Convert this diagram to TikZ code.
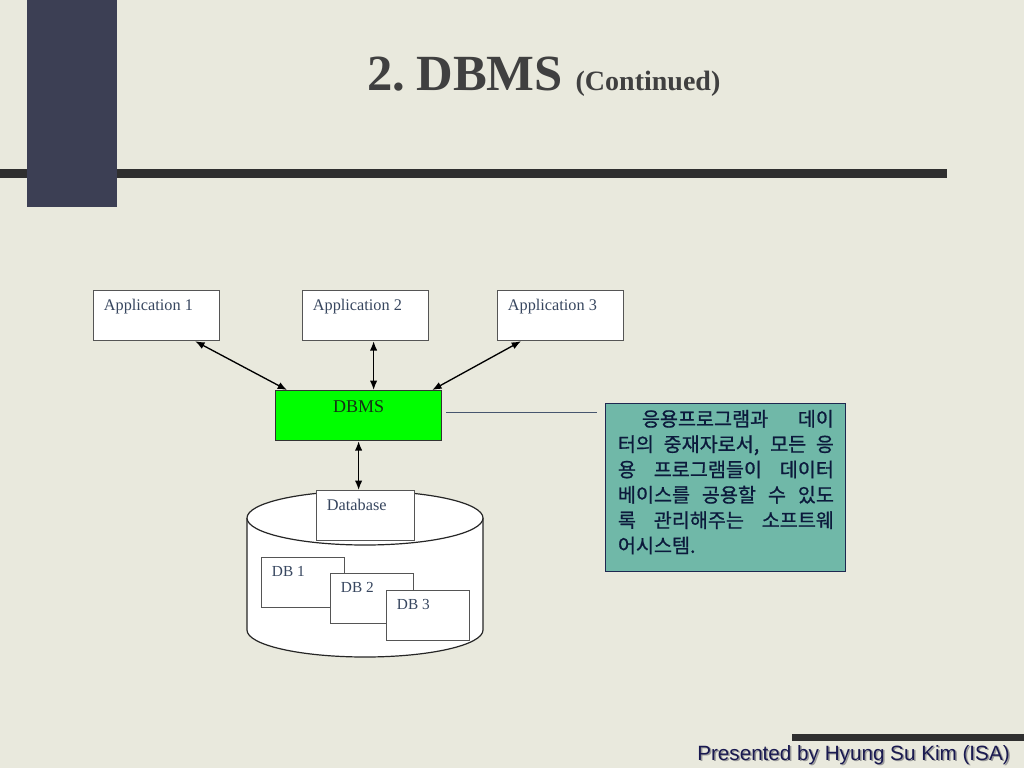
\documentclass[tikz,border=0pt]{standalone}
\usepackage{fontspec}
\setmainfont{Liberation Serif}
\newfontfamily\hangulfont[FakeBold=0.8]{Noto Sans CJK KR}
\newfontfamily\footerfont{Liberation Sans}
\usetikzlibrary{arrows.meta}
\definecolor{paper}{RGB}{233,233,221}
\definecolor{pillar}{RGB}{60,63,84}
\definecolor{rulebar}{RGB}{47,47,47}
\definecolor{titlegray}{RGB}{64,64,64}
\definecolor{boxline}{RGB}{85,85,85}
\definecolor{boxtext}{RGB}{55,70,95}
\definecolor{dbmsgreen}{RGB}{0,255,0}
\definecolor{dbmstext}{RGB}{20,50,20}
\definecolor{notefill}{RGB}{112,184,168}
\definecolor{noteline}{RGB}{30,40,80}
\definecolor{notetext}{RGB}{12,26,60}
\definecolor{leadercol}{RGB}{70,85,110}
\definecolor{footnavy}{RGB}{25,25,80}
\begin{document}
\begin{tikzpicture}[x=0.75pt, y=-0.75pt,
    every node/.style={inner sep=0pt},
    appbox/.style={draw=boxline, fill=white, line width=0.9pt, anchor=north west,
      minimum width=94.5pt, minimum height=37.5pt},
    dbbox/.style={appbox, minimum width=62.25pt},
    boxlabel/.style={anchor=north west, xshift=8pt, yshift=-7pt, text=boxtext,
      font=\fontsize{12.2}{13}\selectfont},
    dblabel/.style={boxlabel, font=\fontsize{11.5}{12}\selectfont},
    link/.style={{Latex[length=7pt,width=5.5pt]}-{Latex[length=7pt,width=5.5pt]},
      line width=1pt},
    notebox/.style={draw=noteline, fill=notefill, line width=1.1pt, anchor=north west,
      minimum width=180pt, minimum height=126pt},
    notelabel/.style={anchor=north west, xshift=9.5pt, yshift=-5pt, align=left,
      text=notetext, font=\hangulfont\fontsize{14.7}{19}\selectfont}]
  % slide background
  \fill[paper] (0,0) rectangle (1024,768);
  \useasboundingbox (0,0) rectangle (1024,768);
  \fill[rulebar] (0,169) rectangle (947,178);
  \fill[pillar] (27,0) rectangle (117,207);
  \fill[rulebar] (792,734) rectangle (1024,741);
  \node[anchor=base west, text=titlegray] (title) at (367,90)
    {\bfseries\fontsize{38}{40}\selectfont 2.\kern-1pt\ DBMS \fontsize{21}{22}\selectfont(Continued)};

  % database cylinder
  \fill[white] (247,518) -- (247,630)
    arc[start angle=180, end angle=0, x radius=118, y radius=27] -- (483,518) -- cycle;
  \draw[line width=0.9pt, black!85] (247,518) -- (247,630)
    arc[start angle=180, end angle=0, x radius=118, y radius=27] -- (483,518);
  \draw[line width=0.9pt, black!85, fill=white] (365,518) ellipse [x radius=118, y radius=27];

  % boxes
  \node[appbox, label={[boxlabel]north west:Application 1}] (app1) at (93,290) {};
  \node[appbox, label={[boxlabel]north west:Application 2}] (app2) at (302,290) {};
  \node[appbox, label={[boxlabel]north west:Application 3}] (app3) at (497,290) {};
  \node[appbox, fill=dbmsgreen, draw=black!80, minimum width=124.5pt,
    label={[anchor=north, yshift=-7.4pt, text=dbmstext,
      font=\fontsize{13.5}{14}\selectfont]north:DBMS}] (dbms) at (275,390) {};
  \node[appbox, minimum width=73.5pt, label={[boxlabel]north west:Database}] (database) at (316,490) {};
  \node[dbbox, label={[dblabel]north west:DB 1}] (db1) at (261,557) {};
  \node[dbbox, label={[dblabel]north west:DB 2}] (db2) at (330,573) {};
  \node[dbbox, label={[dblabel]north west:DB 3}] (db3) at (386,590) {};

  % connectors
  \draw[link] ([xshift=-18.75pt]app1.south east) -- ([xshift=9pt]dbms.north west);
  \draw[link] ([xshift=6pt]app2.south) -- ([xshift=6pt]app2.south |- dbms.north);
  \draw[link] ([xshift=18pt]app3.south west) -- ([xshift=-7.5pt]dbms.north east);
  \draw[link] (dbms.south) -- (dbms.south |- database.north);

  % note
  \node[notebox, label={[notelabel]north west:{%
      \makebox[162pt][s]{\hspace*{18pt}응용프로그램과 데이}\\
      \makebox[162pt][s]{터의 중재자로서, 모든 응}\\
      \makebox[162pt][s]{용 프로그램들이 데이터}\\
      \makebox[162pt][s]{베이스를 공용할 수 있도}\\
      \makebox[162pt][s]{록 관리해주는 소프트웨}\\
      어시스템.}}] (note) at (605,403) {};
  \draw[leadercol, line width=0.8pt] ([xshift=3pt,yshift=2.25pt]dbms.east)
    -- ([xshift=-6pt,yshift=2.25pt]dbms.east -| note.west);

  % footer
  \node[anchor=base west, text=black!40, font=\footerfont\fontsize{15.5}{16}\selectfont]
    (footshadow) at (698.5,761.5) {Presented by Hyung Su Kim (ISA)};
  \node[anchor=base west, text=footnavy, font=\footerfont\fontsize{15.5}{16}\selectfont]
    (footer) at (697,760) {Presented by Hyung Su Kim (ISA)};
\end{tikzpicture}
\end{document}
